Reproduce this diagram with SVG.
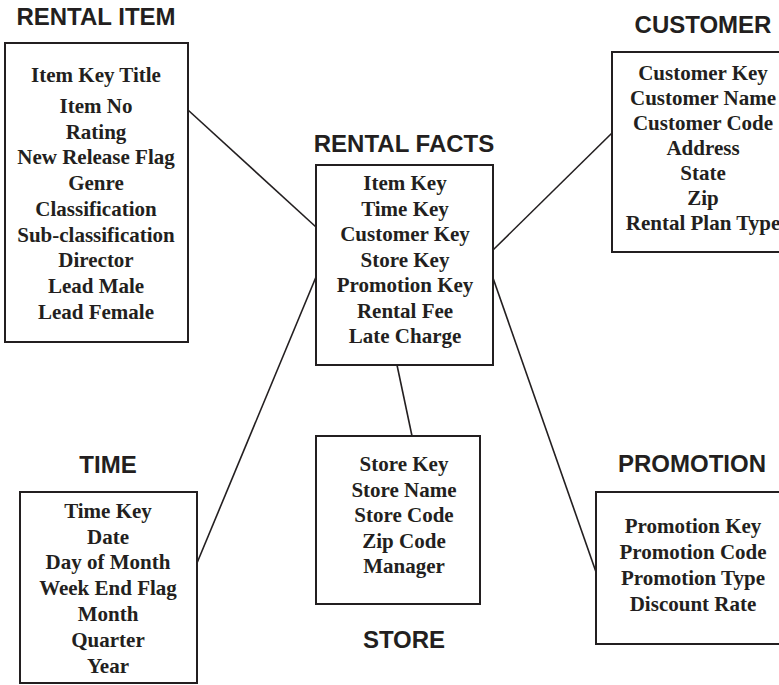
<svg xmlns="http://www.w3.org/2000/svg" width="779" height="685" viewBox="0 0 779 685">
<style>
.box{fill:#fff;stroke:#231f20;stroke-width:2}
.title{font-family:"Liberation Sans",Arial,sans-serif;font-weight:bold;font-size:24px;fill:#231f20;text-anchor:middle}
.item{font-family:"Liberation Serif","Times New Roman",serif;font-weight:bold;font-size:21px;fill:#231f20;text-anchor:middle}
.conn line{stroke:#231f20;stroke-width:1.6}
</style>
<rect width="779" height="685" fill="#fff"/>
<g id="connectors" class="conn">
<line x1="188" y1="110" x2="316" y2="227"/>
<line x1="493" y1="250" x2="612" y2="133"/>
<line x1="197" y1="563" x2="316" y2="277"/>
<line x1="493" y1="278" x2="596" y2="572"/>
<line x1="397" y1="365" x2="412" y2="436"/>
</g>
<g id="rental-item">
<text class="title" x="96" y="25">RENTAL ITEM</text>
<rect class="box" x="5" y="43" width="183" height="299"/>
<text class="item" x="96" y="82">Item Key Title</text>
<text class="item" x="96" y="113">Item No</text>
<text class="item" x="96" y="139">Rating</text>
<text class="item" x="96" y="164">New Release Flag</text>
<text class="item" x="96" y="190">Genre</text>
<text class="item" x="96" y="216">Classification</text>
<text class="item" x="96" y="242">Sub-classification</text>
<text class="item" x="96" y="267">Director</text>
<text class="item" x="96" y="293">Lead Male</text>
<text class="item" x="96" y="319">Lead Female</text>
</g>
<g id="customer">
<text class="title" x="703" y="33">CUSTOMER</text>
<rect class="box" x="612" y="52" width="180" height="200"/>
<text class="item" x="703" y="80">Customer Key</text>
<text class="item" x="703" y="105">Customer Name</text>
<text class="item" x="703" y="130">Customer Code</text>
<text class="item" x="703" y="155">Address</text>
<text class="item" x="703" y="180">State</text>
<text class="item" x="703" y="205">Zip</text>
<text class="item" x="703" y="230">Rental Plan Type</text>
</g>
<g id="rental-facts">
<text class="title" x="404" y="152">RENTAL FACTS</text>
<rect class="box" x="316" y="165" width="177" height="200"/>
<text class="item" x="405" y="190">Item Key</text>
<text class="item" x="405" y="215.5">Time Key</text>
<text class="item" x="405" y="241">Customer Key</text>
<text class="item" x="405" y="266.5">Store Key</text>
<text class="item" x="405" y="292">Promotion Key</text>
<text class="item" x="405" y="317.5">Rental Fee</text>
<text class="item" x="405" y="343">Late Charge</text>
</g>
<g id="time">
<text class="title" x="108" y="473">TIME</text>
<rect class="box" x="20" y="492" width="177" height="191"/>
<text class="item" x="108" y="518">Time Key</text>
<text class="item" x="108" y="544">Date</text>
<text class="item" x="108" y="569">Day of Month</text>
<text class="item" x="108" y="595">Week End Flag</text>
<text class="item" x="108" y="621">Month</text>
<text class="item" x="108" y="647">Quarter</text>
<text class="item" x="108" y="673">Year</text>
</g>
<g id="store">
<rect class="box" x="316" y="436" width="164" height="168"/>
<text class="item" x="404" y="471">Store Key</text>
<text class="item" x="404" y="496.5">Store Name</text>
<text class="item" x="404" y="522">Store Code</text>
<text class="item" x="404" y="547.5">Zip Code</text>
<text class="item" x="404" y="573">Manager</text>
<text class="title" x="404" y="648">STORE</text>
</g>
<g id="promotion">
<text class="title" x="692" y="472">PROMOTION</text>
<rect class="box" x="596" y="492" width="195" height="152"/>
<text class="item" x="693" y="533">Promotion Key</text>
<text class="item" x="693" y="559">Promotion Code</text>
<text class="item" x="693" y="585">Promotion Type</text>
<text class="item" x="693" y="611">Discount Rate</text>
</g>
</svg>
